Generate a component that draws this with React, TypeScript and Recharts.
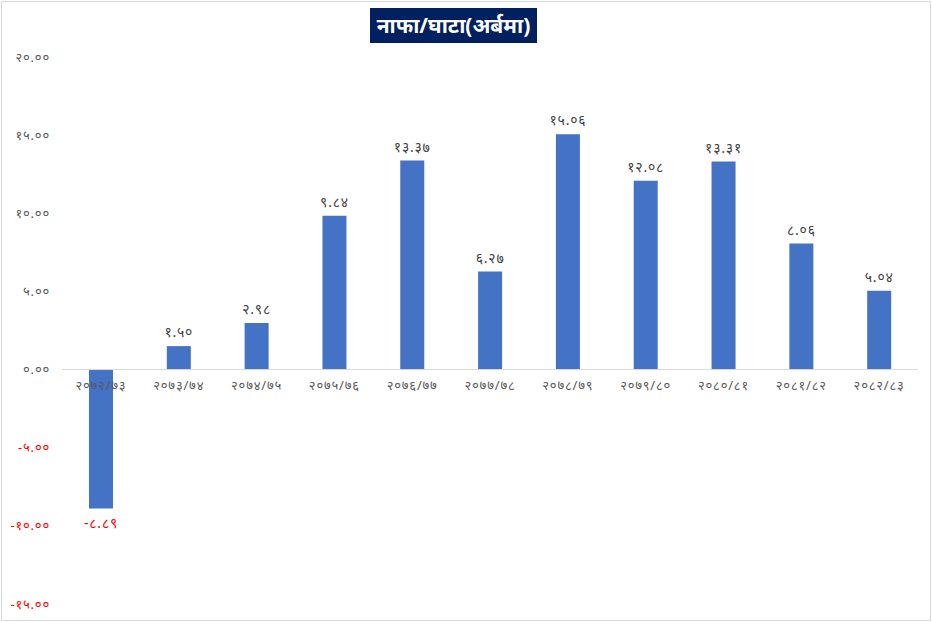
import React from "react";
import { BarChart, Bar, XAxis, YAxis, ReferenceLine, LabelList } from "recharts";

const categories = [
  "२०७२/७३", "२०७३/७४", "२०७४/७५", "२०७५/७६", "२०७६/७७", "२०७७/७८",
  "२०७८/७९", "२०७९/८०", "२०८०/८१", "२०८१/८२", "२०८२/८३",
];
const profitLoss = [-8.89, 1.5, 2.98, 9.84, 13.37, 6.27, 15.06, 12.08, 13.31, 8.06, 5.04];
const yTicks = [-15, -10, -5, 0, 5, 10, 15, 20];
const title = "नाफा/घाटा(अर्बमा)";

const data = categories.map((c, i) => ({ name: c, value: profitLoss[i] }));

const DEV = ["०", "१", "२", "३", "४", "५", "६", "७", "८", "९"];
const toDev = (s: string) => s.replace(/[0-9]/g, (d) => DEV[Number(d)]);
const fmt = (v: number) => toDev(v.toFixed(2));

const W = 932;
const H = 622;
const M = { top: 57, right: 14, bottom: 0, left: 0 };
const X_H = 18;
const Y_W = 62;
const DOMAIN: [number, number] = [-15, 20];
const plotTop = M.top;
const plotBottom = H - M.bottom - X_H;
const zeroY = plotTop + ((DOMAIN[1] - 0) / (DOMAIN[1] - DOMAIN[0])) * (plotBottom - plotTop);

const FONT = "'Noto Sans', 'DejaVu Sans', sans-serif";

const YTick = (props: any) => {
  const { x, y, payload } = props;
  const v = payload.value as number;
  return (
    <text x={x} y={y} dy="0.35em" textAnchor="end" fontSize={13} letterSpacing={0.8} fontFamily={FONT}
      fill={v < 0 ? "#FF0000" : "#595959"}>
      {fmt(v)}
    </text>
  );
};

const XTick = (props: any) => {
  const { x, payload } = props;
  return (
    <text x={x} y={zeroY + 20} textAnchor="middle" fontSize={13} letterSpacing={0.8} fontFamily={FONT} fill="#595959">
      {payload.value}
    </text>
  );
};

const ValueLabel = (props: any) => {
  const { x, y, width, height, value } = props;
  const v = Number(value);
  const top = Math.min(y, y + height);
  const bottom = Math.max(y, y + height);
  const cx = x + width / 2;
  const ty = v >= 0 ? top - 9 : bottom + 19;
  return (
    <text x={cx} y={ty} textAnchor="middle" fontSize={14} letterSpacing={0.8} fontFamily={FONT}
      fill={v < 0 ? "#FF0000" : "#404040"}>
      {fmt(v)}
    </text>
  );
};

export default function App() {
  return (
    <div style={{ position: "absolute", left: 0, top: 0, width: W, height: H, background: "#fff" }}>
      <div style={{ position: "absolute", left: 1, top: 1, width: W - 4, height: H - 4, border: "1px solid #d9d9d9" }} />
      <BarChart width={W} height={H} data={data} margin={M}>
        <YAxis
          width={Y_W}
          domain={DOMAIN}
          ticks={yTicks}
          axisLine={false}
          tickLine={false}
          tickMargin={6}
          tick={<YTick />}
          interval={0}
        />
        <XAxis
          dataKey="name"
          height={X_H}
          axisLine={false}
          tickLine={false}
          tick={<XTick />}
          interval={0}
        />
        <ReferenceLine y={0} stroke="#d9d9d9" strokeWidth={1} />
        <Bar dataKey="value" fill="#4472C4" barSize={24} isAnimationActive={false}>
          <LabelList dataKey="value" content={<ValueLabel />} />
        </Bar>
      </BarChart>
      <div
        style={{
          position: "absolute",
          left: 370,
          top: 8,
          width: 167,
          height: 35,
          background: "#002060",
          color: "#fff",
          fontFamily: FONT,
          fontWeight: "bold",
          fontSize: 21,
          lineHeight: "35px",
          textAlign: "center",
          whiteSpace: "nowrap",
        }}
      >
        {title}
      </div>
    </div>
  );
}
